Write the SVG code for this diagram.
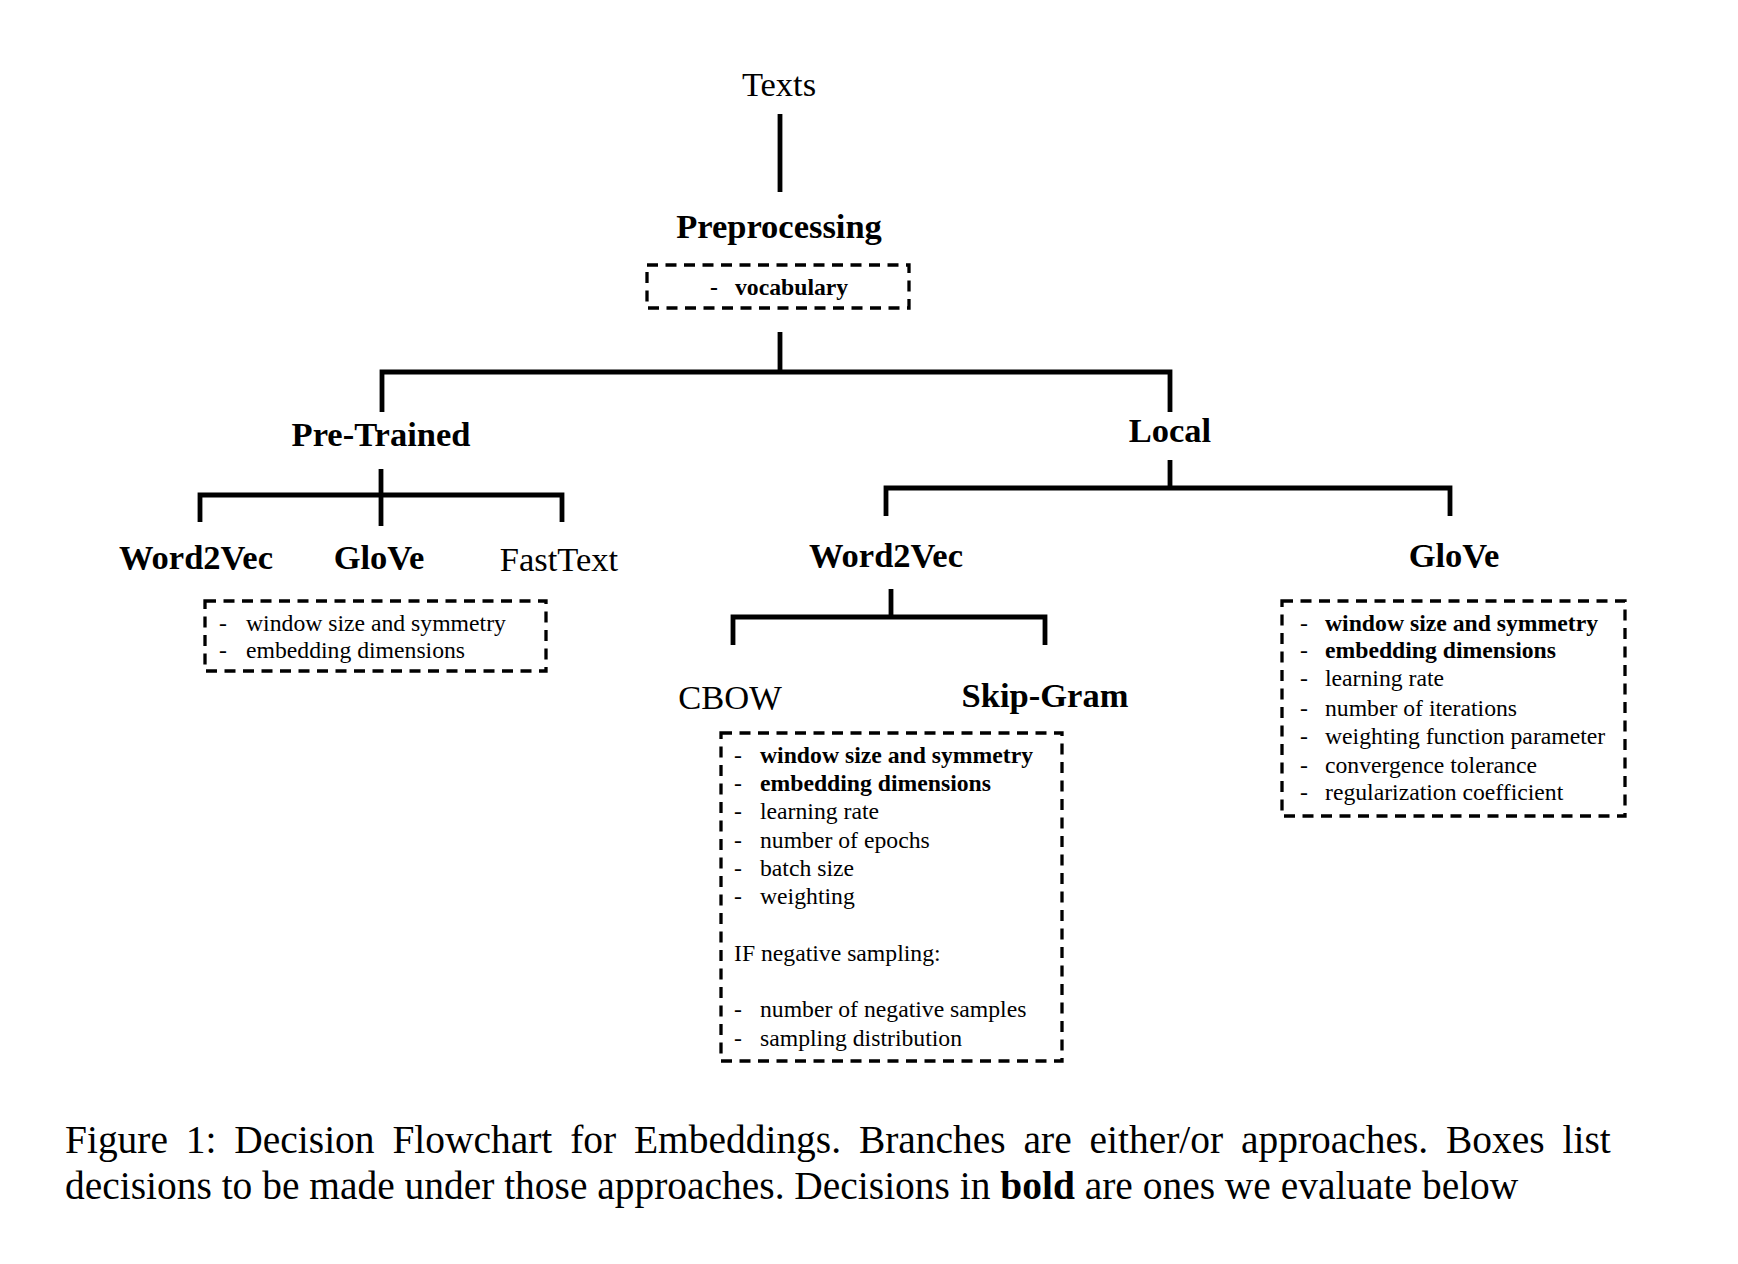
<svg xmlns="http://www.w3.org/2000/svg" width="1738" height="1264" viewBox="0 0 1738 1264">
<style>
text{font-family:"Liberation Serif","Times New Roman",serif;fill:#000}
.lbl{font-size:34.5px;text-anchor:middle}
.b{font-weight:bold}
.item{font-size:23.7px}
.cap{font-size:39.45px}
.conn{fill:none;stroke:#000;stroke-width:4.8;stroke-linejoin:miter;stroke-linecap:butt}
.box{fill:none;stroke:#000;stroke-width:3.3;stroke-dasharray:11 7.5}
</style>
<rect width="1738" height="1264" fill="#fff"/>
<g id="connectors">
<line class="conn" x1="780" y1="114" x2="780" y2="192"/>
<line class="conn" x1="780" y1="332" x2="780" y2="372"/>
<polyline class="conn" points="382,412 382,372 1170,372 1170,412"/>
<line class="conn" x1="381" y1="469" x2="381" y2="526"/>
<polyline class="conn" points="200,522 200,495 562,495 562,522"/>
<line class="conn" x1="1170" y1="460" x2="1170" y2="488"/>
<polyline class="conn" points="886,516 886,488 1450,488 1450,516"/>
<line class="conn" x1="891" y1="589" x2="891" y2="617"/>
<polyline class="conn" points="733,645 733,617 1045,617 1045,645"/>
</g>
<g id="texts"><text class="lbl" x="779" y="96">Texts</text></g>
<g id="preprocessing">
<text class="lbl b" x="779" y="238">Preprocessing</text>
<rect class="box" x="647" y="265" width="262" height="43"/>
<text class="item b" x="710" y="295">-</text>
<text class="item b" x="735" y="295">vocabulary</text>
</g>
<g id="pretrained"><text class="lbl b" x="381" y="446">Pre-Trained</text></g>
<g id="pt-word2vec"><text class="lbl b" x="196" y="569">Word2Vec</text></g>
<g id="pt-glove">
<text class="lbl b" x="379" y="569">GloVe</text>
<rect class="box" x="205" y="601" width="341" height="70"/>
<text class="item" x="219" y="631">-</text>
<text class="item" x="246" y="631">window size and symmetry</text>
<text class="item" x="219" y="658">-</text>
<text class="item" x="246" y="658">embedding dimensions</text>
</g>
<g id="pt-fasttext"><text class="lbl" x="559" y="571">FastText</text></g>
<g id="local"><text class="lbl b" x="1170" y="442">Local</text></g>
<g id="local-word2vec"><text class="lbl b" x="886" y="567">Word2Vec</text></g>
<g id="cbow"><text class="lbl" x="730" y="709">CBOW</text></g>
<g id="skipgram">
<text class="lbl b" x="1045" y="707">Skip-Gram</text>
<rect class="box" x="721" y="733" width="341" height="328"/>
<text class="item" x="734" y="763">-</text><text class="item b" x="760" y="763">window size and symmetry</text>
<text class="item" x="734" y="791">-</text><text class="item b" x="760" y="791">embedding dimensions</text>
<text class="item" x="734" y="819">-</text><text class="item" x="760" y="819">learning rate</text>
<text class="item" x="734" y="848">-</text><text class="item" x="760" y="848">number of epochs</text>
<text class="item" x="734" y="876">-</text><text class="item" x="760" y="876">batch size</text>
<text class="item" x="734" y="904">-</text><text class="item" x="760" y="904">weighting</text>
<text class="item" x="734" y="961">IF negative sampling:</text>
<text class="item" x="734" y="1017">-</text><text class="item" x="760" y="1017">number of negative samples</text>
<text class="item" x="734" y="1046">-</text><text class="item" x="760" y="1046">sampling distribution</text>
</g>
<g id="local-glove">
<text class="lbl b" x="1454" y="567">GloVe</text>
<rect class="box" x="1282" y="601" width="343" height="215"/>
<text class="item" x="1300" y="631">-</text><text class="item b" x="1325" y="631">window size and symmetry</text>
<text class="item" x="1300" y="658">-</text><text class="item b" x="1325" y="658">embedding dimensions</text>
<text class="item" x="1300" y="686">-</text><text class="item" x="1325" y="686">learning rate</text>
<text class="item" x="1300" y="716">-</text><text class="item" x="1325" y="716">number of iterations</text>
<text class="item" x="1300" y="744">-</text><text class="item" x="1325" y="744">weighting function parameter</text>
<text class="item" x="1300" y="773">-</text><text class="item" x="1325" y="773">convergence tolerance</text>
<text class="item" x="1300" y="800">-</text><text class="item" x="1325" y="800">regularization coefficient</text>
</g>
<g id="caption">
<text class="cap" x="65" y="1153" word-spacing="8.0">Figure 1:  Decision Flowchart for Embeddings.  Branches are either/or approaches.  Boxes list</text>
<text class="cap" x="65" y="1199">decisions to be made under those approaches. Decisions in <tspan class="b">bold</tspan> are ones we evaluate below</text>
</g>
</svg>
